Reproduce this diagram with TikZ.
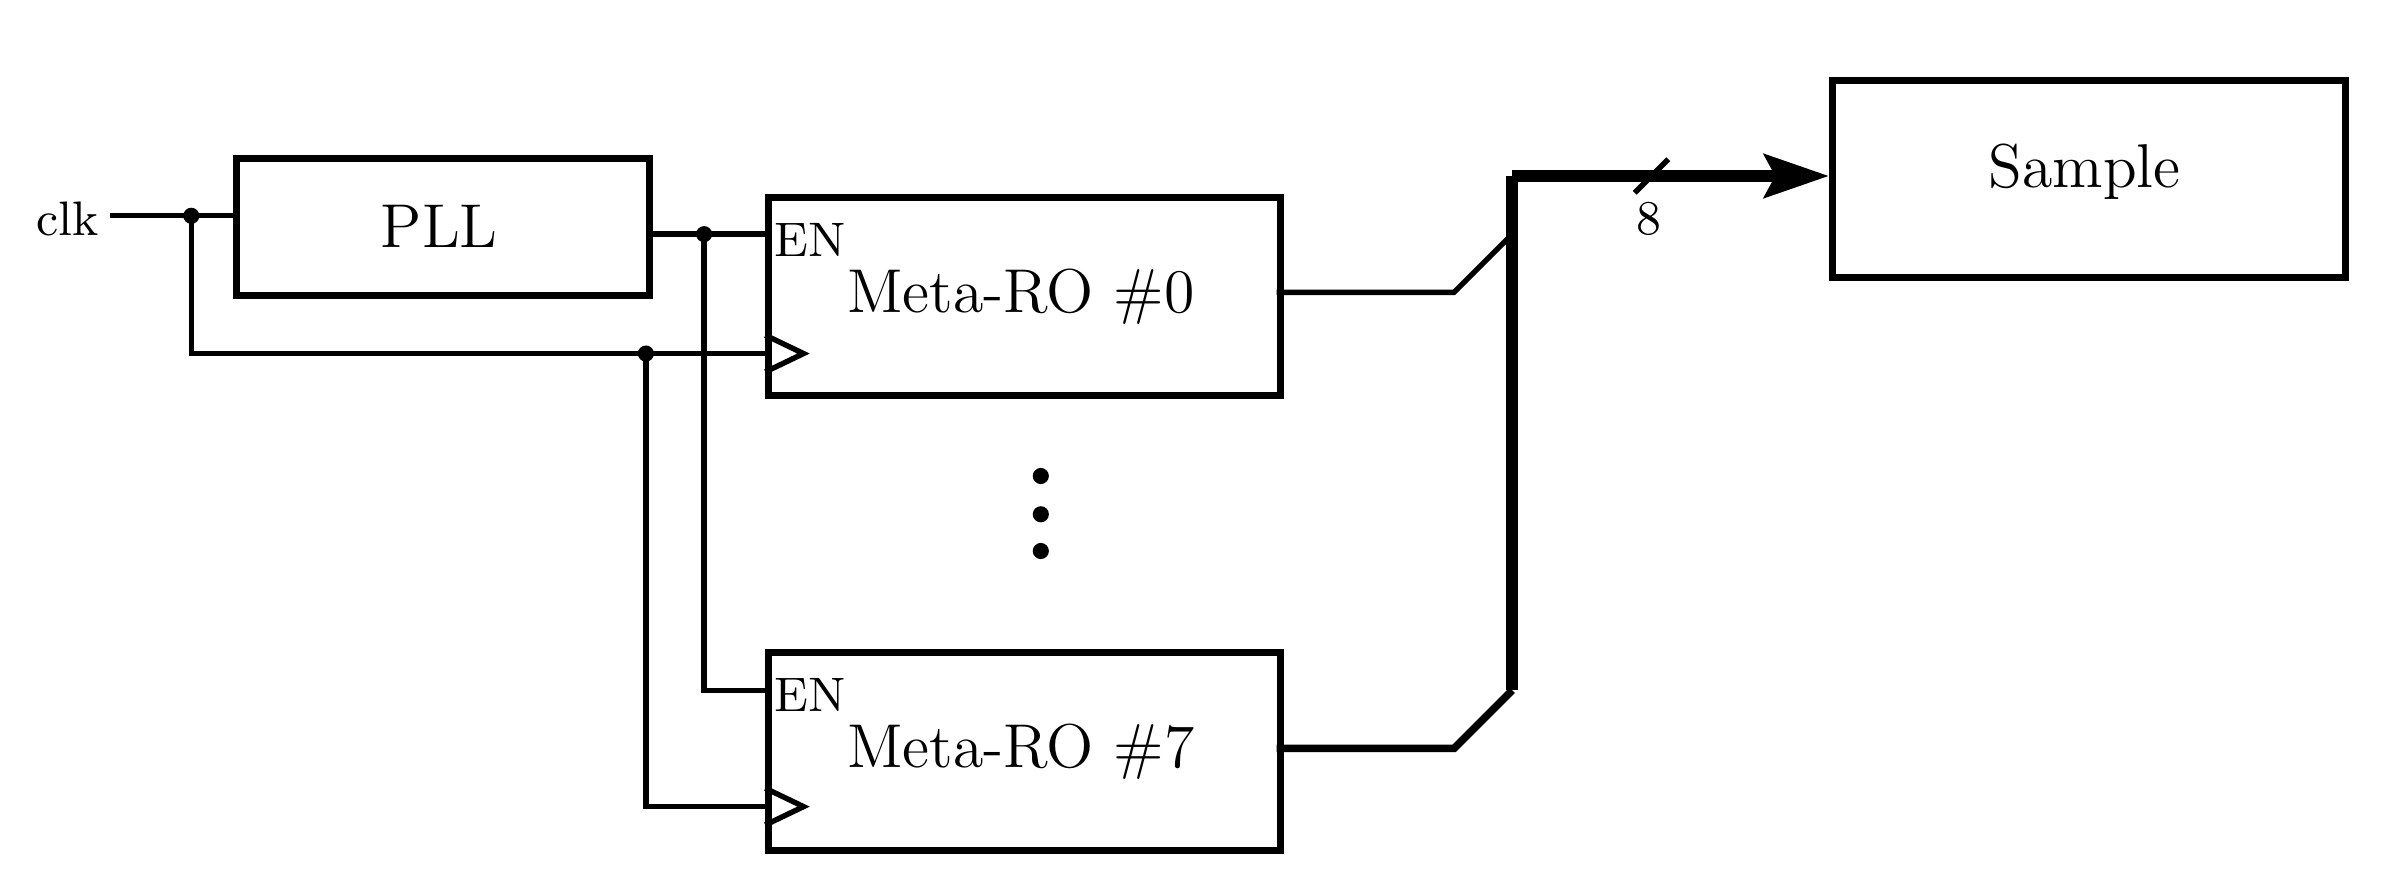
\documentclass[tikz,border=0pt]{standalone}
\usetikzlibrary{arrows.meta}
\begin{document}
\begin{tikzpicture}[x=0.01cm,y=-0.01cm,
    blk/.style={draw,line width=1.3pt,inner sep=0pt},
    wire/.style={line width=1pt},
    bus/.style={line width=2.2pt},
    lbl/.style={font=\fontsize{11.5}{14}\selectfont},
    dot/.style={circle,fill,inner sep=0pt,minimum size=3pt}]
  \useasboundingbox (0,0) rectangle (1568,583);
  % boxes
  \node[blk,anchor=north west,minimum width=2.70cm,minimum height=0.90cm] (pll) at (152,101) {};
  \node[lbl] (pllt) at (287,148) {PLL};
  \node[blk,anchor=north west,minimum width=3.34cm,minimum height=1.29cm] (ro0) at (500,127) {};
  \node[lbl] (ro0t) at (667,194) {Meta-RO \#0};
  \node[blk,anchor=north west,minimum width=3.34cm,minimum height=1.29cm] (ro7) at (500,424) {};
  \node[lbl] (ro7t) at (667,491) {Meta-RO \#7};
  \node[blk,anchor=north west,minimum width=3.35cm,minimum height=1.29cm] (smp) at (1195,50) {};
  \node[lbl] (smpt) at (1362,112) {Sample};
  \node[anchor=north west,inner sep=1pt,font=\small] (en0) at (502,142) {EN};
  \node[anchor=north west,inner sep=1pt,font=\small] (en7) at (502,439) {EN};
  % clock triangles
  \draw[wire] (500,219) -- (525,231) -- (500,243);
  \draw[wire] (500,515) -- (525,527) -- (500,539);
  % clk input
  \node[anchor=east,inner sep=2pt,font=\small] (clk) at (72,143) {clk};
  \coordinate (c1) at (125,141);
  \coordinate (e1) at (460,153);
  \coordinate (k1) at (422,231);
  \draw[wire] (72,141) -- (pll.west |- c1);
  \node[dot] (d1) at (c1) {};
  \draw[wire] (c1) |- (500,231);
  \draw[wire] (pll.east |- e1) -- (500,153);
  \node[dot] (d2) at (e1) {};
  \draw[wire] (e1) |- (500,451);
  \node[dot] (d3) at (k1) {};
  \draw[wire] (k1) |- (500,527);
  % dots
  \foreach \yy/\n in {311/a,336/b,360/c} \node[dot] (v\n) at (680,\yy) {};
  % outputs and bus
  \coordinate (b0) at (988,115);
  \coordinate (b1) at (988,451);
  \draw[wire] (834,191) -- (950,191) -- (988,153);
  \draw[line width=1.4pt] (834,489) -- (950,489) -- (b1);
  \draw[bus] (b1) -- (b0);
  \draw[bus,-{Stealth[length=12pt,width=8pt,inset=2pt]}] (b0) -- (smp.west |- b0);
  \draw[wire] (1068,126) -- (1090,104);
  \node[font=\small] (n8) at (1077,143) {8};
\end{tikzpicture}
\end{document}
